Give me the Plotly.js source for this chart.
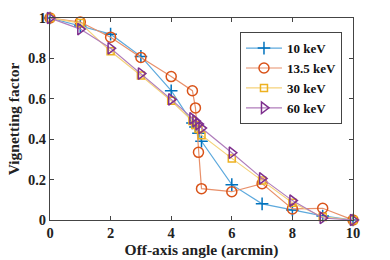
<!DOCTYPE html>
<html><head><meta charset="utf-8">
<script src="https://cdn.plot.ly/plotly-3.0.1.min.js"></script>
<style>html,body{margin:0;padding:0;background:#fff}#c{width:390px;height:260px}</style>
</head><body><div id="c"></div>
<script>
var angles = [0, 1, 2, 3, 4, 4.7, 4.8, 4.9, 5, 6, 7, 8, 9, 10];
var v10 = [1, 0.96, 0.92, 0.81, 0.64, 0.48, 0.46, 0.43, 0.39, 0.175, 0.08, 0.05, 0.02, 0.0];
var v135 = [1, 0.98, 0.905, 0.805, 0.71, 0.64, 0.555, 0.335, 0.155, 0.14, 0.18, 0.055, 0.058, 0.0];
var v30 = [1, 0.975, 0.835, 0.715, 0.59, 0.49, 0.47, 0.45, 0.42, 0.305, 0.195, 0.085, 0.015, 0.0];
var v60 = [1, 0.945, 0.85, 0.725, 0.597, 0.503, 0.49, 0.475, 0.455, 0.333, 0.206, 0.096, 0.01, 0.0];
var names = ['10 keV', '13.5 keV', '30 keV', '60 keV'];
var series = [v10, v135, v30, v60];
var markerColors = ['#0072BD', '#D95319', '#EDB120', '#7E2F8E'];
var lineColors = ['#5DA9DD', '#E8906A', '#F5D27A', '#B07DBB'];
var symbols = ['cross-thin-open', 'circle-open', 'square-open', 'triangle-right-open'];
var sizes = [9, 10, 7, 10];

var traces = series.map(function (ys, i) {
  return {
    x: angles, y: ys, name: names[i], type: 'scatter', mode: 'lines+markers',
    cliponaxis: false,
    line: {color: lineColors[i], width: 1.2},
    marker: {symbol: symbols[i], size: sizes[i], color: markerColors[i],
             line: {color: markerColors[i], width: 1.5}}
  };
});

var fam = 'Liberation Serif';
var layout = {
  width: 390, height: 260,
  margin: {l: 50, r: 37, t: 18, b: 40},
  paper_bgcolor: '#fff', plot_bgcolor: '#fff',
  showlegend: true,
  legend: {x: 0.627, y: 0.93, xanchor: 'left', yanchor: 'top',
           bgcolor: '#fff', bordercolor: '#444', borderwidth: 1,
           font: {family: fam, size: 13, color: '#111', weight: 'bold'},
           tracegroupgap: 0, itemwidth: 36},
  xaxis: {range: [0, 10], tickvals: [0, 2, 4, 6, 8, 10], ticktext: ['0','2','4','6','8','10'],
          ticks: 'inside', ticklen: 4, tickcolor: '#444', showgrid: false, zeroline: false,
          showline: true, linecolor: '#444', linewidth: 1, mirror: 'ticks',
          tickfont: {family: fam, size: 14.5, color: '#222', weight: 'bold'},
          title: {text: 'Off-axis angle (arcmin)', standoff: 2,
                  font: {family: fam, size: 15.5, color: '#222', weight: 'bold'}}},
  yaxis: {range: [0, 1], tickvals: [0, 0.2, 0.4, 0.6, 0.8, 1], ticktext: ['0','0.2','0.4','0.6','0.8','1'],
          ticks: 'inside', ticklen: 4, tickcolor: '#444', showgrid: false, zeroline: false,
          showline: true, linecolor: '#444', linewidth: 1, mirror: 'ticks',
          tickfont: {family: fam, size: 14.5, color: '#222', weight: 'bold'},
          title: {text: 'Vignetting factor', standoff: 4,
                  font: {family: fam, size: 15.5, color: '#222', weight: 'bold'}}}
};
Plotly.newPlot('c', traces, layout, {staticPlot: true, displayModeBar: false});
</script></body></html>
